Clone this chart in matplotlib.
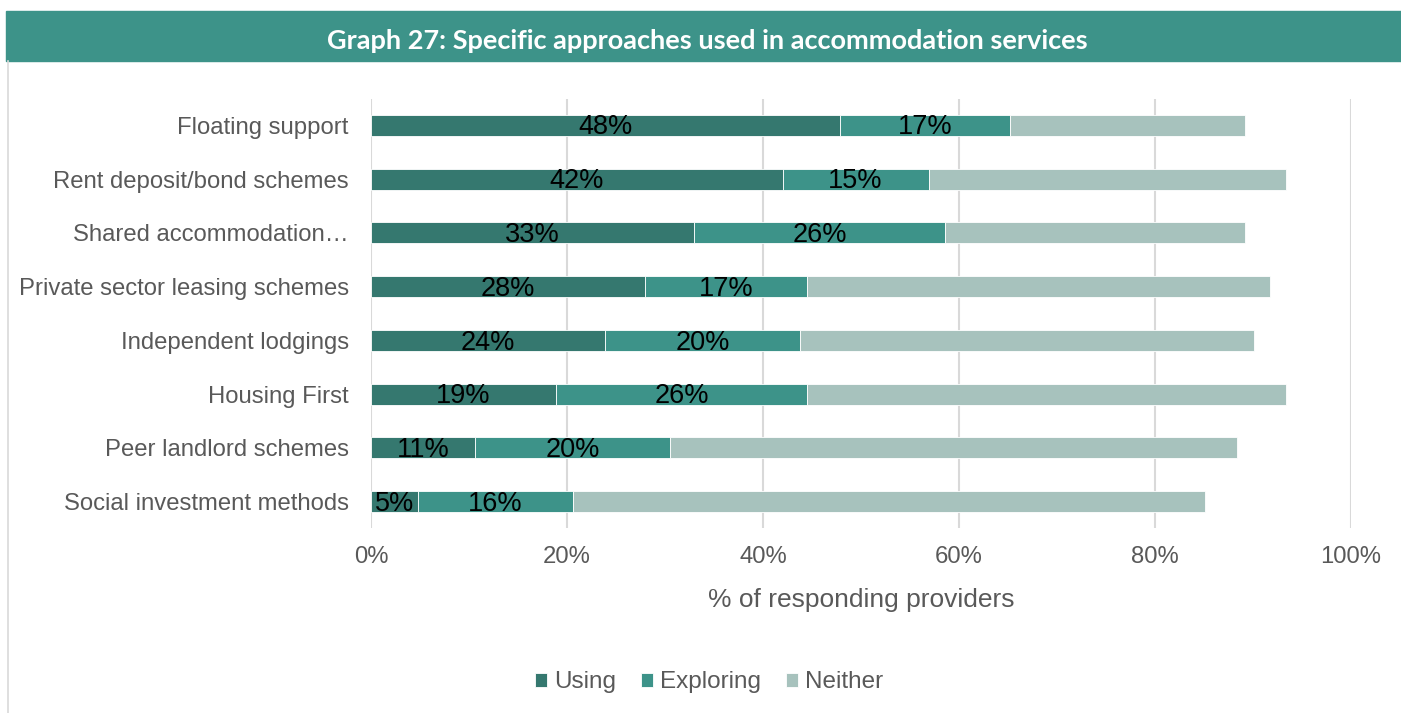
import matplotlib
matplotlib.use("Agg")
import matplotlib.pyplot as plt
import numpy as np
from matplotlib.patches import Rectangle

plt.rcParams['font.family'] = ['Liberation Sans', 'DejaVu Sans']

categories = ['Floating support', 'Rent deposit/bond schemes', 'Shared accommodation\u2026',
              'Private sector leasing schemes', 'Independent lodgings', 'Housing First',
              'Peer landlord schemes', 'Social investment methods']
using = [47.9, 42.0, 33.0, 28.0, 23.9, 18.9, 10.6, 4.8]
exploring = [17.3, 14.9, 25.6, 16.5, 19.9, 25.6, 19.9, 15.8]
neither = [24.0, 36.5, 30.6, 47.2, 46.3, 48.9, 57.9, 64.5]
using_lbl = ['48%', '42%', '33%', '28%', '24%', '19%', '11%', '5%']
exploring_lbl = ['17%', '15%', '26%', '17%', '20%', '26%', '20%', '16%']

c_using = '#35786f'
c_expl = '#3d9389'
c_neith = '#a7c2bd'

fig = plt.figure(figsize=(14.01, 7.13), dpi=100)

# title banner
fig.patches.append(Rectangle((6/1401, 1-61/713), 1, 50/713, transform=fig.transFigure,
                             color='#3d9389', zorder=0))
fig.text(0.505, 1-41/713, 'Graph 27: Specific approaches used in accommodation services',
         ha='center', va='center', color='white', fontsize=19.5, fontweight='bold',
         family=['Lato', 'DejaVu Sans'])
fig.add_artist(plt.Line2D([8/1401, 8/1401], [0, 1-61/713], transform=fig.transFigure,
                          color='#d9d9d9', lw=1.2))

ax = fig.add_axes([371/1401, 1-528/713, 980/1401, 429/713])
y = np.arange(len(categories))
h = 0.39
left = np.zeros(len(categories))
for vals, col, name in [(using, c_using, 'Using'), (exploring, c_expl, 'Exploring'),
                        (neither, c_neith, 'Neither')]:
    ax.barh(y, vals, left=left, height=h, color=col, edgecolor='white', linewidth=0.6,
            label=name, zorder=3)
    left = left + np.array(vals)

for i in range(len(categories)):
    ax.text(using[i] / 2, y[i] + 0.04, using_lbl[i], ha='center', va='center',
            fontsize=19.5, color='black', zorder=4)
    ax.text(using[i] + exploring[i] / 2, y[i] + 0.04, exploring_lbl[i], ha='center',
            va='center', fontsize=19.5, color='black', zorder=4)

ax.set_xlim(0, 100)
ax.set_ylim(7.49, -0.49)
ax.set_xticks(np.arange(0, 101, 20))
ax.set_xticklabels([f'{v}%' for v in range(0, 101, 20)])
ax.set_yticks(y)
ax.set_yticklabels(categories)
ax.grid(axis='x', color='#d9d9d9', lw=1.5, zorder=0)
for s in ax.spines.values():
    s.set_visible(False)
ax.tick_params(axis='both', length=0, labelsize=17.2, colors='#595959')
ax.tick_params(axis='y', pad=16)
ax.tick_params(axis='x', pad=13)
ax.set_xlabel('% of responding providers', fontsize=19, color='#595959', labelpad=14)

ax.legend(loc='center', bbox_to_anchor=(0.345, -0.36), ncol=3, frameon=False,
          fontsize=17.5, handlelength=0.5, handleheight=0.5, handletextpad=0.3,
          columnspacing=1.0, labelcolor='#595959')

fig.savefig('out.png', dpi=100)
